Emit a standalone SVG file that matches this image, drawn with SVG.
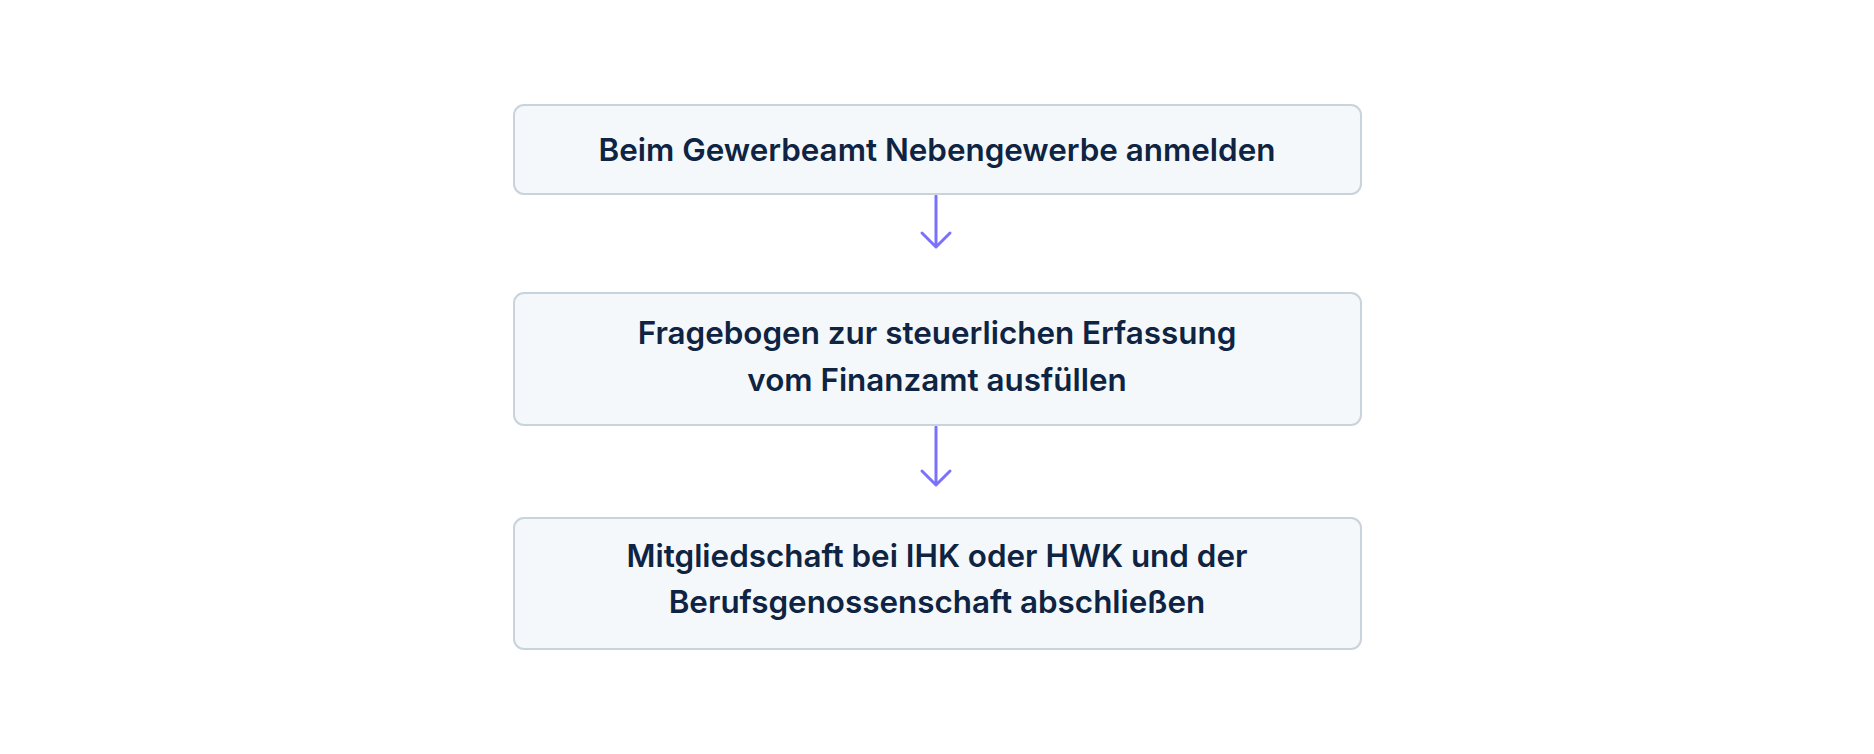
<svg xmlns="http://www.w3.org/2000/svg" width="1874" height="754" viewBox="0 0 1874 754">
<style>
.box{fill:#f4f8fb;stroke:#c9d3dc;stroke-width:2}
.lbl{font-family:Inter,"Noto Sans","Liberation Sans",sans-serif;font-size:31.4px;font-weight:600;fill:#0e2442;text-anchor:middle}
.edge{fill:none;stroke:#7b72fc;stroke-width:3;stroke-linecap:round;stroke-linejoin:round}
</style>
<rect width="1874" height="754" fill="#ffffff"/>
<g id="connectors">
<path class="edge" d="M936 196 V247 M922 233 L936 247 L950 233"/>
<path class="edge" d="M936 427 V485 M922 471 L936 485 L950 471"/>
</g>
<g id="n1">
<rect class="box" x="514" y="105" width="847" height="89" rx="10"/>
<text class="lbl" x="937" y="161">Beim Gewerbeamt Nebengewerbe anmelden</text>
</g>
<g id="n2">
<rect class="box" x="514" y="293" width="847" height="132" rx="10"/>
<text class="lbl" x="937" y="344">Fragebogen zur steuerlichen Erfassung</text>
<text class="lbl" x="937" y="391">vom Finanzamt ausfüllen</text>
</g>
<g id="n3">
<rect class="box" x="514" y="518" width="847" height="131" rx="10"/>
<text class="lbl" x="937" y="567">Mitgliedschaft bei IHK oder HWK und der</text>
<text class="lbl" x="937" y="613">Berufsgenossenschaft abschließen</text>
</g>
</svg>
